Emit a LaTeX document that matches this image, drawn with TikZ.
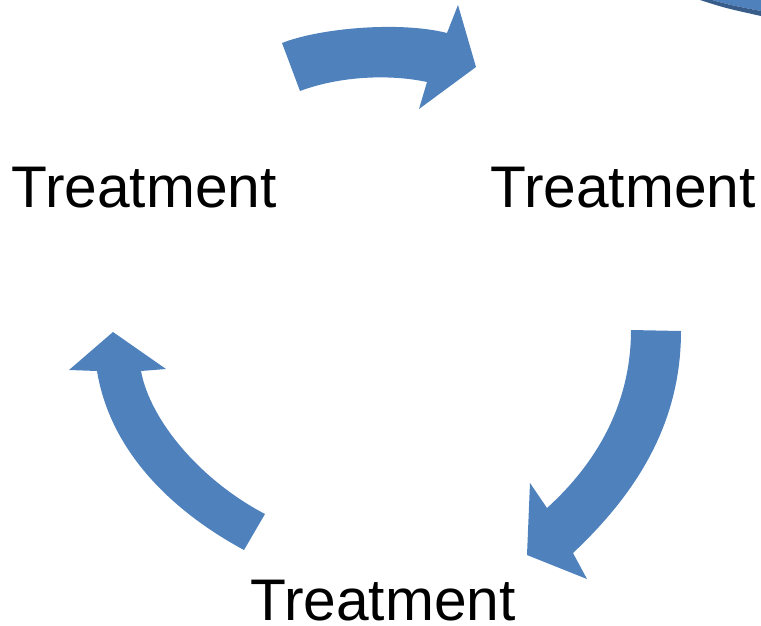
\documentclass[tikz,border=0pt]{standalone}
\usepackage{fontspec}
\setmainfont{Liberation Sans}
\definecolor{arrowblue}{RGB}{79,129,189}
\definecolor{edgeblue}{RGB}{56,93,138}
\begin{document}
\begin{tikzpicture}[x=1pt,y=-1pt]
  \tikzstyle{label}=[inner sep=0pt,anchor=base,text depth=0pt,font=\fontsize{58.7}{60}\selectfont]
  \tikzstyle{blockarrow}=[fill=arrowblue]
  \useasboundingbox (0,0) rectangle (761,625);
  \node[label] (tleft)   at (144,207) {Treatment};
  \node[label] (tright)  at (623,207) {Treatment};
  \node[label] (tbottom) at (383,620) {Treatment};

  % top arrow
  \fill[blockarrow] (282,43) .. controls (320,28) and (400,21) .. (447,33)
    -- (458,5) -- (476,67) -- (419,109) -- (427,82)
    .. controls (390,74) and (340,76) .. (300,91) -- cycle;
  % right arrow
  \fill[blockarrow] (681,331) .. controls (681,420) and (640,490) .. (573,553)
    -- (587,579) -- (527,555) -- (530,483) -- (547,508)
    .. controls (600,460) and (631,400) .. (631,330) -- cycle;
  % left arrow
  \fill[blockarrow] (265,514) .. controls (200,480) and (150,420) .. (141,371)
    -- (166,369) -- (113,332) -- (69,370) -- (97,371)
    .. controls (110,450) and (170,510) .. (244,550) -- cycle;

  % corner shape
  \fill[arrowblue] (712,0) .. controls (730,5) .. (761,11) -- (761,0) -- cycle;
  \fill[edgeblue] (700,0) .. controls (725,8) .. (761,16) -- (761,11)
    .. controls (730,5) .. (712,0) -- cycle;
\end{tikzpicture}
\end{document}
